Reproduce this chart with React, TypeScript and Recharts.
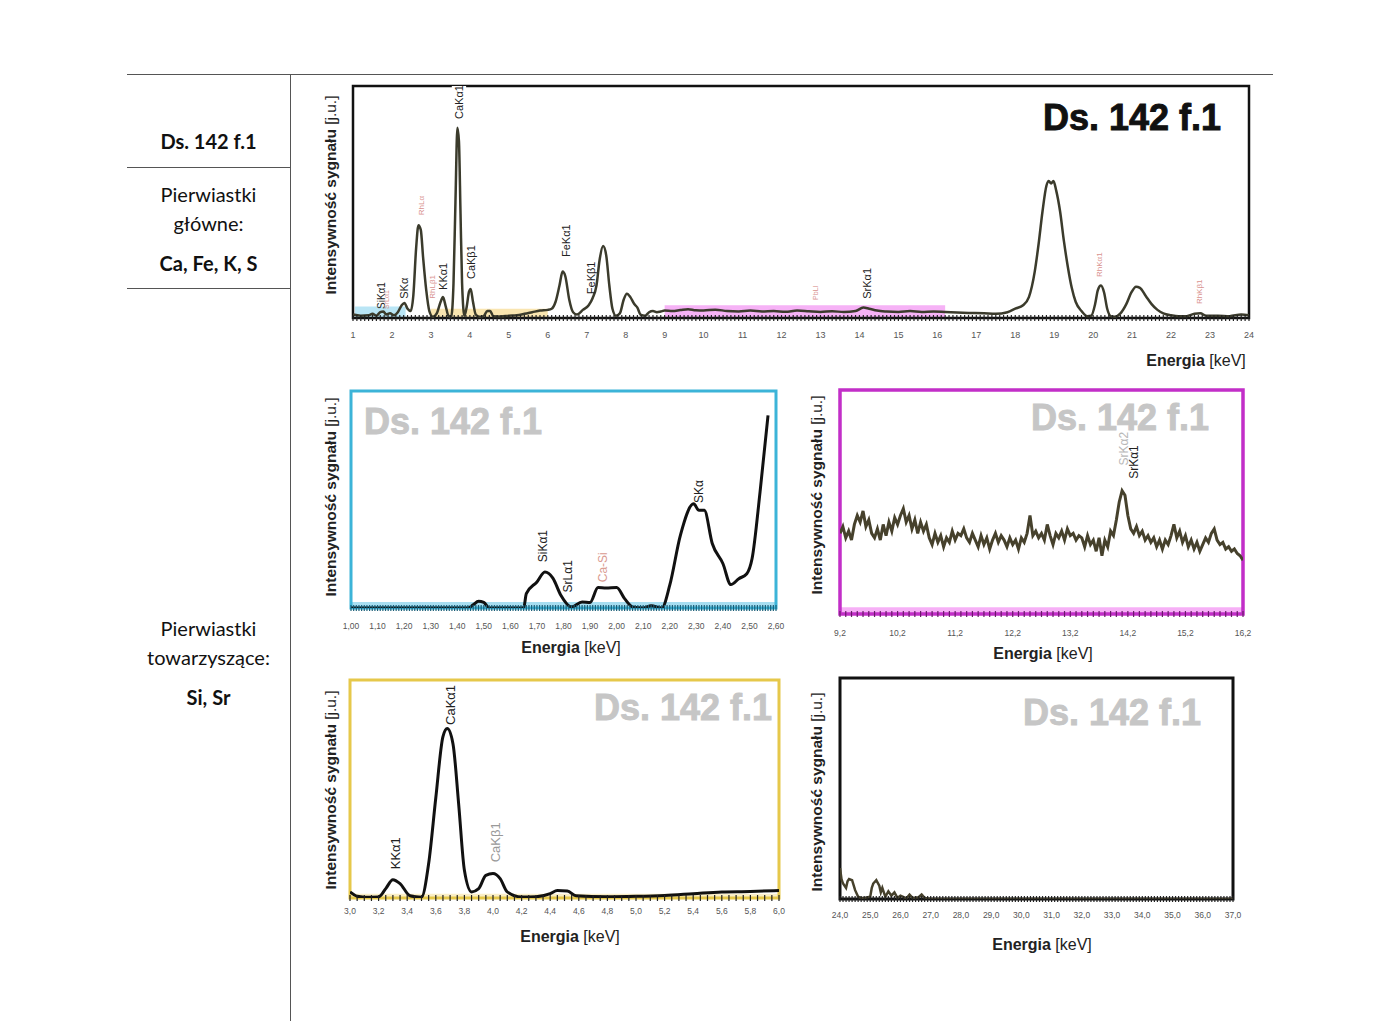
import React from 'react';
import { ComposedChart, Line, XAxis, YAxis, Scatter, ReferenceArea } from 'recharts';

const FONT = '"Liberation Sans", Arial, sans-serif';
const CELL_FONT = 'Lato, "Open Sans", sans-serif';

// ---- spectra (energy keV, intensity a.u. 0-100) ----
const mainSpectrum: [number, number][] = [
  [1.0, 1.5], [1.2, 1.0], [1.4, 1.2], [1.5, 1.8], [1.6, 1.0], [1.7, 2.5], [1.78, 2.8], [1.85, 1.5],
  [1.95, 2.0], [2.05, 1.2], [2.15, 2.5], [2.25, 5.5], [2.32, 6.5], [2.4, 4.0], [2.48, 3.0], [2.55, 10],
  [2.62, 30], [2.68, 40], [2.74, 38], [2.8, 26], [2.88, 12], [2.96, 3], [3.05, 0.5], [3.15, 2],
  [3.25, 7], [3.31, 9], [3.38, 5], [3.45, 1], [3.52, 0.5], [3.58, 15], [3.63, 50], [3.68, 82],
  [3.72, 76], [3.76, 45], [3.8, 15], [3.86, 1], [3.92, 5], [3.98, 11.5], [4.02, 12.5], [4.08, 7],
  [4.15, 1.5], [4.25, 0.5], [4.35, 0.8], [4.45, 3], [4.52, 3], [4.6, 0.8], [4.8, 0.6], [5.0, 1.0],
  [5.2, 1.2], [5.4, 1.8], [5.6, 2.5], [5.8, 3.2], [6.0, 3.5], [6.1, 4.0], [6.2, 7], [6.3, 14],
  [6.38, 20], [6.45, 18], [6.55, 8], [6.65, 2.5], [6.75, 1.5], [6.9, 3.5], [7.05, 5.5], [7.15, 8.5],
  [7.25, 14], [7.33, 25], [7.42, 31], [7.5, 27], [7.58, 14], [7.66, 4], [7.75, 1], [7.85, 2],
  [7.95, 8], [8.03, 10.5], [8.12, 9], [8.22, 6], [8.3, 4.5], [8.38, 1.5], [8.5, 1], [8.6, 2.5],
  [8.7, 3.0], [8.8, 2.5], [8.9, 2.8], [9.0, 3.2], [9.2, 3.0], [9.4, 3.4], [9.6, 3.8], [9.8, 3.3],
  [10.0, 3.2], [10.3, 3.6], [10.6, 3.0], [10.9, 2.8], [11.2, 3.2], [11.5, 2.8], [11.8, 3.0], [12.1, 2.7],
  [12.4, 3.2], [12.7, 2.9], [13.0, 2.6], [13.3, 2.9], [13.6, 2.6], [13.9, 3.0], [14.1, 4.5], [14.25, 4.0],
  [14.45, 3.2], [14.7, 2.8], [15.0, 2.6], [15.3, 3.0], [15.6, 2.6], [15.9, 2.8], [16.2, 2.6], [16.5, 2.4],
  [16.8, 2.2], [17.2, 2.0], [17.5, 1.8], [17.8, 2.5], [18.0, 4.0], [18.2, 5.5], [18.35, 9], [18.5, 20],
  [18.6, 32], [18.7, 46], [18.8, 57], [18.86, 59], [18.92, 58], [18.98, 59], [19.05, 55], [19.15, 46],
  [19.25, 33], [19.35, 22], [19.45, 13], [19.55, 7], [19.7, 3], [19.85, 0.8], [19.95, 1], [20.05, 6],
  [20.12, 12], [20.2, 14], [20.28, 11], [20.36, 4], [20.45, 0.8], [20.55, 0.5], [20.7, 2], [20.85, 6],
  [20.98, 11], [21.1, 13.5], [21.2, 13], [21.35, 9.5], [21.5, 6], [21.65, 3.5], [21.8, 2], [22.0, 1.2],
  [22.2, 0.8], [22.4, 0.8], [22.6, 1.8], [22.75, 2.0], [22.9, 1.0], [23.2, 1.0], [23.5, 0.8], [23.8, 1.5],
  [24.0, 1.2],
];

const lightSpectrum: [number, number][] = [
  [1.0, 0], [1.2, 0], [1.44, 0], [1.46, 1.5], [1.48, 3.1], [1.5, 2.6], [1.52, 0], [1.65, 0],
  [1.66, 6.6], [1.7, 12], [1.73, 16.6], [1.76, 13.8], [1.79, 5.9], [1.83, 0.5], [1.87, 2.8], [1.9, 2.5],
  [1.93, 9.4], [1.96, 9.2], [2.0, 9.4], [2.03, 4.3], [2.06, 0.5], [2.1, 0], [2.13, 1], [2.17, 0],
  [2.2, 10.5], [2.24, 33.5], [2.29, 48], [2.31, 45], [2.33, 45], [2.36, 29.7], [2.4, 20.5], [2.43, 10.8],
  [2.46, 13.5], [2.49, 15.8], [2.51, 22.8], [2.54, 53.5], [2.57, 88.8],
];

const midSpectrum: [number, number][] = [
  [9.2, 36], [9.25, 39], [9.3, 34], [9.35, 37], [9.4, 33], [9.45, 40], [9.5, 44], [9.55, 41], [9.6, 46],
  [9.65, 39], [9.7, 42], [9.75, 36], [9.8, 34], [9.85, 38], [9.9, 33], [9.95, 40], [10.0, 35], [10.05, 41],
  [10.1, 37], [10.15, 43], [10.2, 40], [10.25, 44], [10.3, 47], [10.35, 41], [10.4, 44], [10.45, 38],
  [10.5, 42], [10.55, 36], [10.6, 41], [10.65, 37], [10.7, 40], [10.75, 34], [10.8, 31], [10.85, 36],
  [10.9, 32], [10.95, 35], [11.0, 30], [11.05, 34], [11.1, 32], [11.15, 37], [11.2, 33], [11.25, 36],
  [11.3, 35], [11.35, 38], [11.4, 34], [11.45, 32], [11.5, 36], [11.55, 33], [11.6, 30], [11.65, 35],
  [11.7, 31], [11.75, 34], [11.8, 29], [11.85, 33], [11.9, 36], [11.95, 32], [12.0, 35], [12.05, 33],
  [12.1, 30], [12.15, 34], [12.2, 31], [12.25, 33], [12.3, 29], [12.35, 34], [12.4, 32], [12.45, 36],
  [12.5, 44], [12.55, 35], [12.6, 37], [12.65, 34], [12.7, 36], [12.75, 33], [12.8, 40], [12.85, 35],
  [12.9, 31], [12.95, 36], [13.0, 34], [13.05, 37], [13.1, 33], [13.15, 38], [13.2, 35], [13.25, 36],
  [13.3, 33], [13.35, 35], [13.4, 34], [13.45, 30], [13.5, 35], [13.55, 31], [13.6, 33], [13.65, 28],
  [13.7, 34], [13.75, 26], [13.8, 33], [13.85, 30], [13.9, 37], [13.95, 35], [14.0, 42], [14.05, 50],
  [14.1, 55], [14.15, 53], [14.2, 44], [14.25, 38], [14.3, 36], [14.35, 39], [14.4, 35], [14.45, 37],
  [14.5, 33], [14.55, 35], [14.6, 32], [14.65, 34], [14.7, 30], [14.75, 33], [14.8, 29], [14.85, 33],
  [14.9, 31], [14.95, 35], [15.0, 40], [15.05, 34], [15.1, 37], [15.15, 32], [15.2, 35], [15.25, 30],
  [15.3, 33], [15.35, 29], [15.4, 32], [15.45, 28], [15.5, 31], [15.55, 34], [15.6, 32], [15.65, 36],
  [15.7, 38], [15.75, 33], [15.8, 31], [15.85, 32], [15.9, 29], [15.95, 30], [16.0, 28], [16.05, 29],
  [16.1, 27], [16.15, 26], [16.2, 24],
];

const caSpectrum: [number, number][] = [
  [3.0, 2.8], [3.05, 0.8], [3.1, 0.4], [3.2, 0.5], [3.25, 4.3], [3.3, 8.4], [3.35, 6.6], [3.42, 1],
  [3.5, 0.4], [3.55, 15.8], [3.6, 46], [3.65, 74], [3.68, 77.7], [3.72, 70.8], [3.76, 43], [3.8, 12.7],
  [3.85, 2.8], [3.9, 4.3], [3.95, 10.4], [4.0, 11.2], [4.05, 8.9], [4.1, 2.8], [4.2, 0.5], [4.3, 0.6],
  [4.4, 2], [4.45, 3.4], [4.52, 3.2], [4.58, 1], [4.8, 0.6], [5.0, 0.8], [5.2, 1.2], [5.4, 2],
  [5.6, 2.8], [5.8, 3.0], [6.0, 3.4],
];

const highSpectrum: [number, number][] = [
  [24.0, 14], [24.05, 9], [24.1, 7], [24.2, 5], [24.25, 8], [24.3, 9], [24.4, 8.5], [24.5, 4],
  [24.6, 1], [24.7, 0.5], [24.8, 0.5], [25.0, 1], [25.05, 5], [25.1, 7], [25.2, 8.5], [25.3, 6],
  [25.35, 3], [25.4, 5], [25.5, 1], [25.6, 3.5], [25.7, 1.5], [25.8, 3], [25.9, 0.5], [26.0, 1.5],
  [26.2, 0.3], [26.3, 2], [26.4, 0.5], [26.6, 0.8], [26.7, 2], [26.8, 0.5], [27.0, 0], [37.0, 0],
];

// ---- peak labels (energy, intensity at label foot, text, colour, size) ----
type Peak = { e: number; v: number; name: string; color: string; size: number; bg?: boolean };
const PINK = '#d9928f';
const mainPeaks: Peak[] = [
  { e: 1.72, v: 2.6, name: 'SiKα1', color: '#222', size: 10 },
  { e: 1.86, v: 2.6, name: 'SrLα1', color: PINK, size: 7 },
  { e: 2.31, v: 7, name: 'SKα', color: '#222', size: 11 },
  { e: 2.75, v: 43, name: 'RhLα', color: PINK, size: 8 },
  { e: 3.03, v: 7, name: 'RhLβ1', color: PINK, size: 8 },
  { e: 3.31, v: 10.8, name: 'KKα1', color: '#222', size: 11 },
  { e: 3.72, v: 84.5, name: 'CaKα1', color: '#222', size: 11, bg: true },
  { e: 4.03, v: 15.5, name: 'CaKβ1', color: '#222', size: 11 },
  { e: 6.47, v: 25, name: 'FeKα1', color: '#222', size: 11 },
  { e: 7.1, v: 9, name: 'FeKβ1', color: '#222', size: 11 },
  { e: 12.86, v: 6.5, name: 'PbLl', color: PINK, size: 7 },
  { e: 14.2, v: 7, name: 'SrKα1', color: '#222', size: 11 },
  { e: 20.17, v: 16.4, name: 'RhKα1', color: PINK, size: 8 },
  { e: 22.72, v: 4.7, name: 'RhKβ1', color: PINK, size: 8 },
];
const lightPeaks: Peak[] = [
  { e: 1.724, v: 19.7, name: 'SiKα1', color: '#222', size: 12 },
  { e: 1.818, v: 5.8, name: 'SrLα1', color: '#222', size: 12 },
  { e: 1.95, v: 10.5, name: 'Ca-Si', color: '#d99a90', size: 12 },
  { e: 2.31, v: 47, name: 'SKα', color: '#222', size: 12 },
];
const midPeaks: Peak[] = [
  { e: 14.13, v: 65, name: 'SrKα2', color: '#b8b8b8', size: 12 },
  { e: 14.3, v: 59, name: 'SrKα1', color: '#222', size: 12 },
];
const caPeaks: Peak[] = [
  { e: 3.32, v: 11.8, name: 'KKα1', color: '#222', size: 13 },
  { e: 3.7, v: 78, name: 'CaKα1', color: '#222', size: 13 },
  { e: 4.02, v: 15, name: 'CaKβ1', color: '#999', size: 13 },
];
const highPeaks: Peak[] = [];

// ---- axis ticks ----
const mainMajor = [1, 2, 3, 4, 5, 6, 7, 8, 9, 10, 11, 12, 13, 14, 15, 16, 17, 18, 19, 20, 21, 22, 23, 24];
const lightMajor = [1.0, 1.1, 1.2, 1.3, 1.4, 1.5, 1.6, 1.7, 1.8, 1.9, 2.0, 2.1, 2.2, 2.3, 2.4, 2.5, 2.6];
const midMajor = [9.2, 10.2, 11.2, 12.2, 13.2, 14.2, 15.2, 16.2];
const caMajor = [3.0, 3.2, 3.4, 3.6, 3.8, 4.0, 4.2, 4.4, 4.6, 4.8, 5.0, 5.2, 5.4, 5.6, 5.8, 6.0];
const highMajor = [24, 25, 26, 27, 28, 29, 30, 31, 32, 33, 34, 35, 36, 37];

const steps = (a: number, b: number, s: number) => {
  const out: number[] = [];
  const n = Math.round((b - a) / s);
  for (let i = 0; i <= n; i++) out.push(Math.round((a + i * s) * 1000) / 1000);
  return out;
};

type Band = { x1: number; x2: number; y2: number; fill: string; opacity: number };

type PanelProps = {
  left: number; top: number; width: number; height: number;
  margin: { top: number; right: number; bottom: number; left: number };
  domain: [number, number];
  data: [number, number][];
  peaks: Peak[];
  stroke: string; strokeWidth: number; curve: 'monotone' | 'linear';
  frame: string; frameWidth: number;
  bands: Band[];
  majors: number[]; minorStep: number; digits: number; labelDy: number; tickFont: number; tickColor: string;
};

function Panel(p: PanelProps) {
  const pts = p.data.map(([e, v]) => ({ e, v }));
  const ticks = steps(p.domain[0], p.domain[1], p.minorStep);
  const fmt = (v: number) => (p.digits === 0 ? String(v) : v.toFixed(p.digits).replace('.', ','));
  const renderTick = (props: any) => {
    const { x, y, payload } = props;
    const val = payload.value as number;
    const major = p.majors.some((m) => Math.abs(m - val) < 1e-6);
    return (
      <g>
        <line x1={x} x2={x} y1={y - 3} y2={y + 3} stroke={p.tickColor} strokeWidth={1.2} />
        {major && (
          <text x={x} y={y + p.labelDy} textAnchor="middle" fontSize={p.tickFont} fill="#555" fontFamily={FONT}>
            {fmt(val)}
          </text>
        )}
      </g>
    );
  };
  const renderPeak = (props: any) => {
    const { cx, cy, payload } = props;
    const pk = payload as Peak;
    const y0 = cy - 3;
    const w = pk.name.length * pk.size * 0.6;
    return (
      <g>
        {pk.bg && <rect x={cx - pk.size * 0.65} y={y0 - w - 4} width={pk.size * 1.3} height={w + 4} fill="#fff" />}
        <text
          x={cx}
          y={y0}
          transform={`rotate(-90 ${cx} ${y0})`}
          textAnchor="start"
          dominantBaseline="central"
          fontSize={pk.size}
          fill={pk.color}
          fontFamily={FONT}
        >
          {pk.name}
        </text>
      </g>
    );
  };
  return (
    <div style={{ position: 'absolute', left: p.left, top: p.top }}>
      <ComposedChart width={p.width} height={p.height} margin={p.margin}>
        <XAxis
          type="number"
          dataKey="e"
          domain={p.domain}
          ticks={ticks}
          interval={0}
          tick={renderTick}
          tickLine={false}
          axisLine={false}
          tickSize={0}
          tickMargin={0}
          height={24}
          allowDataOverflow
        />
        <YAxis type="number" dataKey="v" domain={[0, 100]} hide allowDataOverflow />
        <Line
          data={pts}
          dataKey="v"
          type={p.curve}
          stroke={p.stroke}
          strokeWidth={p.strokeWidth}
          dot={false}
          activeDot={false}
          isAnimationActive={false}
        />
        {p.bands.map((b, i) => (
          <ReferenceArea key={i} x1={b.x1} x2={b.x2} y1={0} y2={b.y2} fill={b.fill} fillOpacity={b.opacity} stroke="none" />
        ))}
        <Scatter data={p.peaks} dataKey="v" shape={renderPeak} isAnimationActive={false} />
        <ReferenceArea
          x1={p.domain[0]}
          x2={p.domain[1]}
          y1={0}
          y2={100}
          fill="none"
          fillOpacity={0}
          stroke={p.frame}
          strokeWidth={p.frameWidth}
        />
      </ComposedChart>
    </div>
  );
}

function YTitle({ cx, cy }: { cx: number; cy: number }) {
  return (
    <div
      style={{
        position: 'absolute', left: cx, top: cy, transform: 'translate(-50%, -50%) rotate(-90deg)',
        whiteSpace: 'nowrap', fontFamily: FONT, fontSize: 15.5, color: '#222', lineHeight: '17px',
      }}
    >
      <b>Intensywność sygnału</b> [j.u.]
    </div>
  );
}

function XTitle({ cx, cy }: { cx: number; cy: number }) {
  return (
    <div
      style={{
        position: 'absolute', left: cx, top: cy, transform: 'translate(-50%, -50%)',
        whiteSpace: 'nowrap', fontFamily: FONT, fontSize: 16, color: '#222', lineHeight: '18px',
      }}
    >
      <b>Energia</b> [keV]
    </div>
  );
}

function Stamp({ x, y, color }: { x: number; y: number; color: string }) {
  return (
    <div
      style={{
        position: 'absolute', left: x, top: y, fontFamily: FONT, fontWeight: 700, fontSize: 36,
        lineHeight: '36px', color, whiteSpace: 'nowrap', WebkitTextStroke: `0.9px ${color}`,
      }}
    >
      Ds. 142 f.1
    </div>
  );
}

function CellText({ cy, text, bold }: { cy: number; text: string; bold?: boolean }) {
  return (
    <div
      style={{
        position: 'absolute', left: 127, width: 163, top: cy, transform: 'translateY(-50%)',
        textAlign: 'center', fontFamily: CELL_FONT, fontSize: 20, fontWeight: bold ? 700 : 400,
        color: '#111', lineHeight: '24px',
      }}
    >
      {text}
    </div>
  );
}

const hr = (x: number, y: number, w: number) => (
  <div style={{ position: 'absolute', left: x, top: y, width: w, height: 1, background: '#555' }} />
);

export default function App() {
  return (
    <div style={{ position: 'absolute', left: 0, top: 0, width: 1400, height: 1021, background: '#fff', overflow: 'hidden' }}>
      {hr(127, 74, 1146)}
      {hr(127, 167, 163)}
      {hr(127, 288, 163)}
      <div style={{ position: 'absolute', left: 290, top: 74, width: 1, height: 947, background: '#555' }} />

      <CellText cy={141} text="Ds. 142 f.1" bold />
      <CellText cy={194} text="Pierwiastki" />
      <CellText cy={223} text="główne:" />
      <CellText cy={263} text="Ca, Fe, K, S" bold />
      <CellText cy={628} text="Pierwiastki" />
      <CellText cy={657} text="towarzyszące:" />
      <CellText cy={697} text="Si, Sr" bold />

      {/* overview spectrum */}
      <Panel
        left={340} top={78} width={920} height={272}
        margin={{ top: 8, right: 11, bottom: 8, left: 13 }}
        domain={[1, 24]} data={mainSpectrum} peaks={mainPeaks}
        stroke="#3b3b2c" strokeWidth={2.5} curve="monotone"
        frame="#111" frameWidth={2.5}
        bands={[
          { x1: 1.05, x2: 2.35, y2: 5, fill: '#7fd0ec', opacity: 0.55 },
          { x1: 3.0, x2: 6.0, y2: 4, fill: '#f4d070', opacity: 0.55 },
          { x1: 9.0, x2: 16.2, y2: 5.5, fill: '#ee66ee', opacity: 0.5 },
        ]}
        majors={mainMajor} minorStep={0.1} digits={0} labelDy={20} tickFont={9} tickColor="#222"
      />
      <YTitle cx={330} cy={195} />
      <XTitle cx={1196} cy={361} />
      <Stamp x={1043} y={100} color="#111" />

      {/* 1.0 - 2.6 keV */}
      <Panel
        left={340} top={383} width={450} height={255}
        margin={{ top: 8, right: 14, bottom: 6, left: 11 }}
        domain={[1.0, 2.6]} data={lightSpectrum} peaks={lightPeaks}
        stroke="#111" strokeWidth={3} curve="monotone"
        frame="#3cb4d8" frameWidth={3}
        bands={[{ x1: 1.0, x2: 2.6, y2: 2.8, fill: '#6cc8e8', opacity: 0.6 }]}
        majors={lightMajor} minorStep={0.01} digits={2} labelDy={21} tickFont={8.5} tickColor="#1a5f78"
      />
      <YTitle cx={330} cy={497} />
      <XTitle cx={571} cy={648} />
      <Stamp x={364} y={404} color="#c6c6c6" />

      {/* 9.2 - 16.2 keV */}
      <Panel
        left={828} top={382} width={430} height={260}
        margin={{ top: 8, right: 15, bottom: 4, left: 12 }}
        domain={[9.2, 16.2]} data={midSpectrum} peaks={midPeaks}
        stroke="#46412c" strokeWidth={3} curve="linear"
        frame="#c22ec8" frameWidth={3.5}
        bands={[{ x1: 9.2, x2: 16.2, y2: 3, fill: '#f07cf0', opacity: 0.6 }]}
        majors={midMajor} minorStep={0.1} digits={1} labelDy={22} tickFont={8.5} tickColor="#6a1a6a"
      />
      <YTitle cx={816} cy={495} />
      <XTitle cx={1043} cy={654} />
      <Stamp x={1031} y={400} color="#c6c6c6" />

      {/* 3.0 - 6.0 keV */}
      <Panel
        left={338} top={672} width={455} height={254}
        margin={{ top: 8, right: 14, bottom: 4, left: 12 }}
        domain={[3.0, 6.0]} data={caSpectrum} peaks={caPeaks}
        stroke="#111" strokeWidth={3} curve="monotone"
        frame="#e6c84a" frameWidth={3}
        bands={[{ x1: 3.0, x2: 6.0, y2: 2, fill: '#f6e2a0', opacity: 0.6 }]}
        majors={caMajor} minorStep={0.05} digits={1} labelDy={16} tickFont={8.5} tickColor="#222"
      />
      <YTitle cx={330} cy={790} />
      <XTitle cx={570} cy={937} />
      <Stamp x={594} y={690} color="#c6c6c6" />

      {/* 24 - 37 keV */}
      <Panel
        left={828} top={670} width={420} height={257}
        margin={{ top: 8, right: 15, bottom: 4, left: 12 }}
        domain={[24, 37]} data={highSpectrum} peaks={highPeaks}
        stroke="#46412c" strokeWidth={2.5} curve="linear"
        frame="#111" frameWidth={3}
        bands={[]}
        majors={highMajor} minorStep={0.1} digits={1} labelDy={19} tickFont={8.5} tickColor="#222"
      />
      <YTitle cx={816} cy={792} />
      <XTitle cx={1042} cy={945} />
      <Stamp x={1023} y={695} color="#c6c6c6" />
    </div>
  );
}
